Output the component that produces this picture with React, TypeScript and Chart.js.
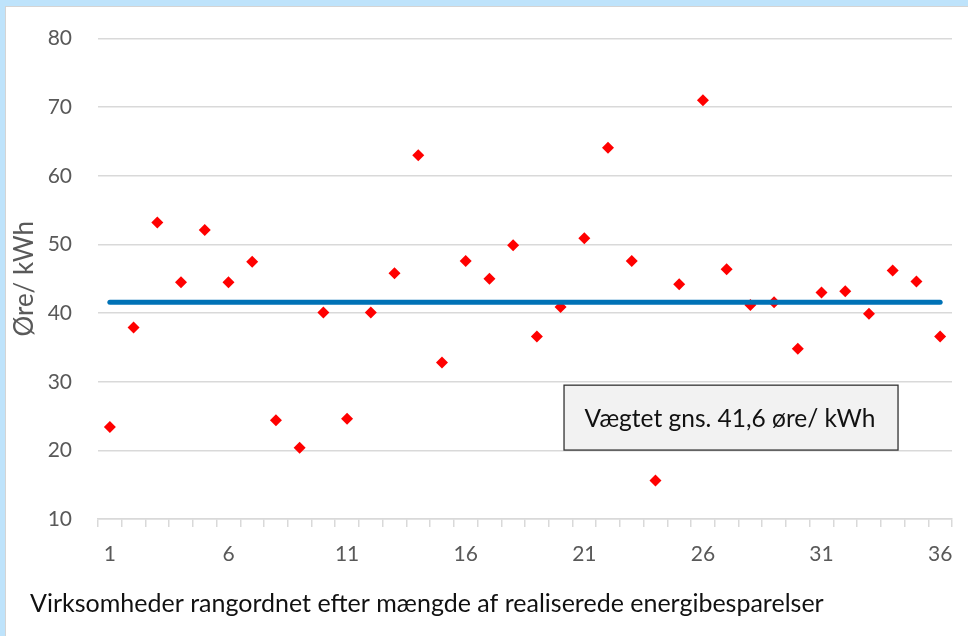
import React, { useEffect, useRef } from 'react';
import { Chart, registerables } from 'chart.js';

Chart.register(...registerables);

const categories = ['1', '2', '3', '4', '5', '6', '7', '8', '9', '10', '11', '12', '13', '14', '15', '16', '17', '18',
  '19', '20', '21', '22', '23', '24', '25', '26', '27', '28', '29', '30', '31', '32', '33', '34', '35', '36'];

const priceValues = [23.4, 37.9, 53.2, 44.5, 52.1, 44.5, 47.5, 24.4, 20.4, 40.1, 24.6, 40.1, 45.8, 63.0, 32.8, 47.6,
  45.0, 49.9, 36.6, 40.9, 50.9, 64.1, 47.6, 15.6, 44.2, 71.0, 46.4, 41.2, 41.6, 34.8, 43.0, 43.2, 39.9, 46.2, 44.6, 36.6];

const shownTickLabels = ['1', '6', '11', '16', '21', '26', '31', '36'];

const avgValue = 41.6;
const avgStart = '1';
const avgEnd = '36';

const avgBoxText = 'Vægtet gns. 41,6 øre/ kWh';
const yAxisTitle = 'Øre/ kWh';
const xAxisTitle = 'Virksomheder rangordnet efter mængde af realiserede energibesparelser';

const FONT = 'Lato, "Open Sans", sans-serif';

const annotationPlugin = {
  id: 'annotationBox',
  afterDatasetsDraw(chart: any) {
    const { ctx, chartArea: a } = chart;
    const w = a.right - a.left;
    const h = a.bottom - a.top;
    const l = a.left + 0.5457 * w;
    const r = a.left + 0.9368 * w;
    const t = a.top + 0.7214 * h;
    const b = a.top + 0.8565 * h;
    ctx.save();
    ctx.fillStyle = '#f2f2f2';
    ctx.fillRect(l, t, r - l, b - t);
    ctx.strokeStyle = '#333333';
    ctx.lineWidth = 1.3;
    ctx.strokeRect(l, t, r - l, b - t);
    ctx.fillStyle = '#111111';
    ctx.font = `24.5px ${FONT}`;
    ctx.textAlign = 'center';
    ctx.textBaseline = 'middle';
    ctx.fillText(avgBoxText, (l + r) / 2 - 1, (t + b) / 2 + 1);
    ctx.restore();
  },
};

const xTitlePlugin = {
  id: 'xTitleLeft',
  afterDraw(chart: any) {
    const { ctx } = chart;
    ctx.save();
    ctx.fillStyle = '#111111';
    ctx.font = `25px ${FONT}`;
    ctx.textAlign = 'left';
    ctx.textBaseline = 'alphabetic';
    ctx.fillText(xAxisTitle, 30, 612);
    ctx.restore();
  },
};

export default function App() {
  const ref = useRef<HTMLCanvasElement | null>(null);

  useEffect(() => {
    if (!ref.current) return;
    const chart = new Chart(ref.current, {
      type: 'scatter',
      data: {
        labels: categories,
        datasets: [
          {
            type: 'line',
            label: 'Vægtet gns.',
            data: [
              { x: avgStart, y: avgValue },
              { x: avgEnd, y: avgValue },
            ],
            borderColor: '#0072b6',
            borderWidth: 5,
            borderCapStyle: 'round',
            pointRadius: 0,
            fill: false,
          } as any,
          {
            type: 'scatter',
            label: 'Øre/ kWh',
            data: priceValues.map((v, i) => ({ x: categories[i], y: v })),
            backgroundColor: '#ff0000',
            borderColor: '#ff0000',
            borderWidth: 0,
            pointStyle: 'rectRot',
            pointRadius: 6,
          } as any,
        ],
      },
      options: {
        animation: false,
        responsive: false,
        maintainAspectRatio: false,
        layout: { padding: { left: 6, top: 38, right: 16, bottom: 0 } },
        plugins: {
          legend: { display: false },
          tooltip: { enabled: false },
          title: { display: false },
        },
        scales: {
          x: {
            type: 'category',
            labels: categories,
            offset: true,
            afterFit: (s: any) => {
              s.height = 117;
            },
            grid: {
              offset: true,
              drawOnChartArea: false,
              drawTicks: true,
              tickLength: 8,
              color: '#d9d9d9',
              lineWidth: 1.5,
            },
            border: { display: true, color: '#d9d9d9', width: 1.5 },
            ticks: {
              autoSkip: false,
              maxRotation: 0,
              padding: 15,
              color: '#595959',
              font: { family: FONT, size: 21 },
              callback: function (this: any, value: any) {
                const lab = this.getLabelForValue(value);
                return shownTickLabels.includes(lab) ? lab : '';
              },
            },
          },
          y: {
            min: 10,
            max: 80,
            afterFit: (s: any) => {
              s.width = 92;
            },
            grid: {
              color: '#d9d9d9',
              lineWidth: 1.5,
              drawTicks: false,
            },
            border: { display: false },
            ticks: {
              stepSize: 10,
              padding: 26,
              color: '#595959',
              font: { family: FONT, size: 21 },
            },
            title: {
              display: true,
              text: yAxisTitle,
              color: '#595959',
              font: { family: FONT, size: 26 },
              padding: { top: 3, bottom: 0 },
            },
          },
        },
      },
      plugins: [annotationPlugin, xTitlePlugin],
    });
    return () => chart.destroy();
  }, []);

  return (
    <div
      style={{
        position: 'absolute',
        left: 0,
        top: 0,
        width: 968,
        height: 636,
        background: '#bee3fb',
        overflow: 'hidden',
      }}
    >
      <div
        style={{
          position: 'absolute',
          left: 5,
          top: 6,
          right: 0,
          bottom: 0,
          background: '#ffffff',
          borderTop: '1px solid #d4d4d4',
          borderLeft: '1px solid #d4d4d4',
        }}
      />
      <canvas
        ref={ref}
        width={968}
        height={636}
        style={{ position: 'absolute', left: 0, top: 0, width: 968, height: 636 }}
      />
    </div>
  );
}
